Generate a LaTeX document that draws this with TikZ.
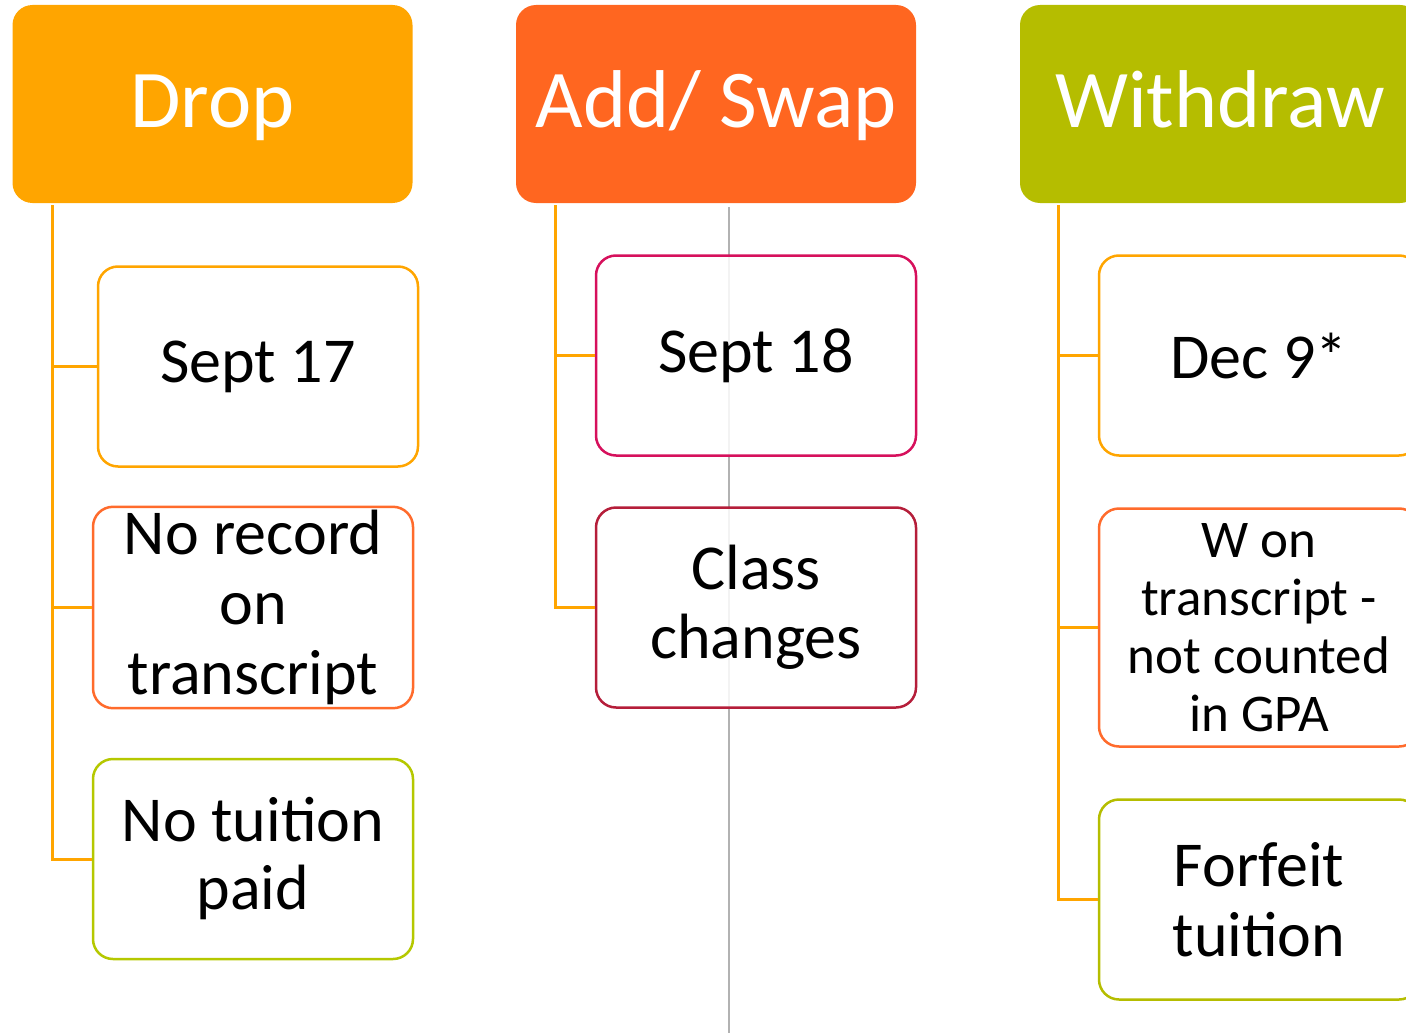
\documentclass[tikz,border=0pt]{standalone}
\usepackage{fontspec}
\setmainfont{Carlito}
\definecolor{dropfill}{HTML}{FFA500}
\definecolor{addfill}{HTML}{FF6620}
\definecolor{wdfill}{HTML}{B5BD00}
\definecolor{redor}{HTML}{FF6B2C}
\definecolor{lime}{HTML}{B5C800}
\definecolor{berry}{HTML}{D6105C}
\definecolor{wine}{HTML}{B51E3A}
\begin{document}
\begin{tikzpicture}[
    x=1pt, y=-1pt,
    header/.style={rectangle, rounded corners=20pt, minimum width=400pt, minimum height=198pt, text=white, text height=50pt, text depth=4pt, font=\fontsize{82}{96}\selectfont},
    item/.style={rectangle, rounded corners=20pt, draw, line width=2.5pt, fill=white, fill opacity=0.85, text opacity=1, minimum width=320pt, minimum height=200pt, align=center, font=\fontsize{64}{70}\selectfont},
    trunk/.style={draw=dropfill, line width=3pt}
]
    \clip (0,0) rectangle (1406,1033);

    % divider behind the middle column
    \coordinate (gtop) at (729,207);
    \coordinate (gbot) at (729,1033);
    \draw[black!30, line width=2pt] (gtop) -- (gbot);

    % headers
    \node[header, fill=dropfill] (hdrop) at (212.5,104) {Drop};
    \node[header, fill=addfill] (hadd) at (716,104) {Add/ Swap};
    \node[header, fill=wdfill] (hwd) at (1220,104) {Withdraw};

    % Drop column
    \node[item, draw=dropfill] (d1) at (258,366.5) {Sept 17};
    \node[item, draw=redor] (d2) at (253,607.5) {No record\\on\\transcript};
    \node[item, draw=lime, font=\fontsize{64}{68}\selectfont] (d3) at (253,859) {No tuition\\paid};

    % Add/Swap column
    \node[item, draw=berry] (a1) at (756,355.5) {Sept 18};
    \node[item, draw=wine, font=\fontsize{64}{69}\selectfont] (a2) at (756,607.5) {Class\\changes};

    % Withdraw column
    \node[item, draw=dropfill] (w1) at (1259,355.5) {Dec 9*};
    \node[item, draw=redor, minimum height=238pt, font=\fontsize{53}{58}\selectfont] (w2) at (1259,627.5) {W on\\transcript -\\not counted\\in GPA};
    \node[item, draw=wdfill] (w3) at (1259,899.5) {Forfeit\\tuition};

    % trunks
    \coordinate (dtop) at (52,205);
    \coordinate (atop) at (555,205);
    \coordinate (wtop) at (1058,205);
    \foreach \b in {d1,d2,d3} {
        \draw[trunk] (dtop) |- (\b.west);
    }
    \foreach \b in {a1,a2} {
        \draw[trunk] (atop) |- (\b.west);
    }
    \foreach \b in {w1,w2,w3} {
        \draw[trunk] (wtop) |- (\b.west);
    }
\end{tikzpicture}
\end{document}
